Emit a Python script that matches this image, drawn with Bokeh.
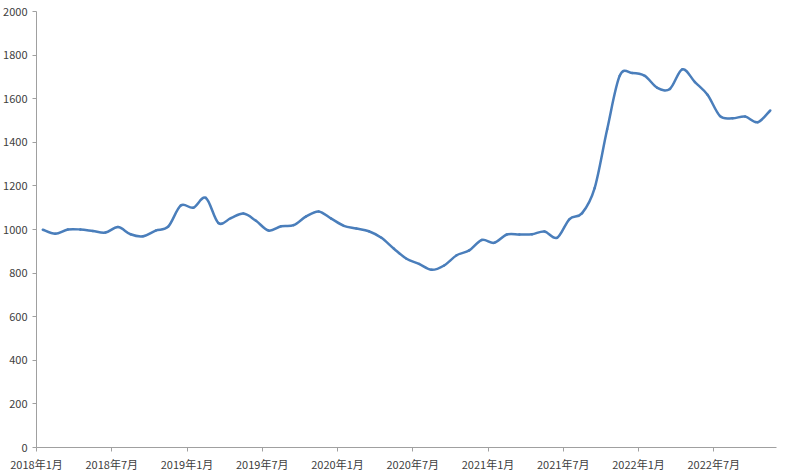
from bokeh.plotting import figure
from bokeh.models import Range1d, FixedTicker, ColumnDataSource
from bokeh.embed import file_html
from bokeh.resources import INLINE

# Monthly values, 2018-01 .. 2022-11
values = [999, 980, 1000, 1000, 993, 986, 1011, 978, 969, 995, 1013, 1110,
          1100, 1145, 1030, 1052, 1073, 1040, 995, 1015, 1020, 1060, 1083, 1050,
          1017, 1005, 992, 962, 912, 866, 842, 815, 835, 882, 904, 952,
          939, 977, 977, 978, 991, 962, 1048, 1075, 1190, 1460, 1705, 1718,
          1705, 1650, 1645, 1735, 1676, 1618, 1520, 1510, 1518, 1492, 1546]
tick_labels = ["2018年1月", "2018年7月", "2019年1月", "2019年7月", "2020年1月",
               "2020年7月", "2021年1月", "2021年7月", "2022年1月", "2022年7月"]
y_ticks = list(range(0, 2001, 200))

n = len(values)
xs = [i + 0.5 for i in range(n)]
tick_pos = [6 * i for i in range(len(tick_labels))]

# smooth curve (Catmull-Rom -> cubic Bezier), like a smoothed line chart
def pt(i):
    i = max(0, min(n - 1, i))
    return xs[i], values[i]

x0, y0, x1, y1, cx0, cy0, cx1, cy1 = [], [], [], [], [], [], [], []
for i in range(n - 1):
    pa, pb, pc, pd = pt(i - 1), pt(i), pt(i + 1), pt(i + 2)
    x0.append(pb[0]); y0.append(pb[1]); x1.append(pc[0]); y1.append(pc[1])
    cx0.append(pb[0] + (pc[0] - pa[0]) / 6); cy0.append(pb[1] + (pc[1] - pa[1]) / 6)
    cx1.append(pc[0] - (pd[0] - pb[0]) / 6); cy1.append(pc[1] - (pd[1] - pb[1]) / 6)
src = ColumnDataSource(dict(x0=x0, y0=y0, x1=x1, y1=y1, cx0=cx0, cy0=cy0, cx1=cx1, cy1=cy1))

p = figure(width=792, height=474, output_backend="svg", toolbar_location=None,
           x_range=Range1d(0, 59), y_range=Range1d(0, 2000),
           min_border_left=35, min_border_right=16, min_border_top=11, min_border_bottom=27)
p.outline_line_color = None
p.grid.grid_line_color = None
p.background_fill_color = "white"

p.bezier(x0="x0", y0="y0", x1="x1", y1="y1", cx0="cx0", cy0="cy0", cx1="cx1", cy1="cy1",
         source=src, line_color="#4a7ebb", line_width=2.5, line_cap="round")

font = "Noto Sans CJK SC"
for ax in (p.xaxis[0], p.yaxis[0]):
    ax.axis_line_color = "#a0a0a0"
    ax.major_tick_line_color = "#a0a0a0"
    ax.minor_tick_line_color = None
    ax.major_tick_out = 4
    ax.major_tick_in = 0
    ax.major_label_text_font = font
    ax.major_label_text_font_size = "11px"
    ax.major_label_text_color = "#404040"

p.xaxis.ticker = FixedTicker(ticks=tick_pos)
p.xaxis.major_label_overrides = {tp: lab for tp, lab in zip(tick_pos, tick_labels)}
p.xaxis.major_label_standoff = 4
p.yaxis.ticker = FixedTicker(ticks=y_ticks)
p.yaxis.major_label_standoff = 5

open("out.html", "w").write(file_html(p, INLINE))
